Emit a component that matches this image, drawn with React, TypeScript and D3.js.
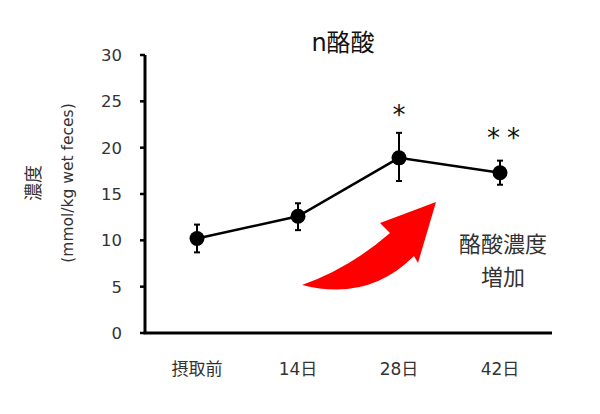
import React from "react";
import * as d3 from "d3";

const categories = ["摂取前", "14日", "28日", "42日"];
const means = [10.2, 12.6, 18.9, 17.3];
const upper = [11.7, 14.0, 21.6, 18.6];
const lower = [8.7, 11.1, 16.4, 16.0];
const significance = ["", "", "*", "**"];
const significanceAt = [0, 0, 24.2, 21.8];
const yTicks = [0, 5, 10, 15, 20, 25, 30];

const W = 600;
const H = 414;
const FONT = "'DejaVu Sans', 'Noto Sans CJK JP', sans-serif";
const CJK = "'Noto Sans CJK JP', sans-serif";

export default function App() {
  const x = d3.scalePoint<string>().domain(categories).range([197, 500]);
  const y = d3.scaleLinear().domain([0, 30]).range([333, 55]);
  const line = d3
    .line<number>()
    .x((_, i) => x(categories[i]) as number)
    .y((d) => y(d));

  return (
    <svg
      width={W}
      height={H}
      style={{ position: "absolute", left: 0, top: 0, background: "#fff" }}
    >
      <rect width={W} height={H} fill="#fff" />
      <text x={343} y={51} textAnchor="middle" fontFamily={FONT} fontSize={24} fill="#111">
        n酪酸
      </text>
      {/* Y axis */}
      <line x1={145} x2={145} y1={y(30)} y2={y(0)} stroke="#000" strokeWidth={3} />
      {yTicks.map((t) => (
        <g key={t}>
          <line x1={140} x2={145} y1={y(t)} y2={y(t)} stroke="#000" strokeWidth={2.5} />
          <text
            x={122}
            y={y(t)}
            dy="0.36em"
            textAnchor="end"
            fontFamily={FONT}
            fontSize={16.5}
            fill="#333"
          >
            {t}
          </text>
        </g>
      ))}
      {/* X axis */}
      <line x1={143.5} x2={552} y1={y(0)} y2={y(0)} stroke="#000" strokeWidth={3} />
      {categories.map((c) => (
        <text
          key={c}
          x={x(c)}
          y={375}
          textAnchor="middle"
          fontFamily={FONT}
          fontSize={17}
          fill="#333"
        >
          {c}
        </text>
      ))}
      {/* Y labels */}
      <text
        transform={`translate(40,183) rotate(-90)`}
        textAnchor="middle"
        fontFamily={CJK}
        fontSize={18}
        fill="#333"
      >
        濃度
      </text>
      <text
        transform={`translate(73,183) rotate(-90)`}
        textAnchor="middle"
        fontFamily="'DejaVu Sans', sans-serif"
        fontSize={15.5}
        fill="#333"
      >
        (mmol/kg wet feces)
      </text>
      {/* Red arrow */}
      <path
        d="M302,285 Q350,268 390,233 L380,223 L436,202 L418,263 L414,256 Q368,302 302,285 Z"
        fill="#ff0000"
      />
      <text x={503} y={252} textAnchor="middle" fontFamily={CJK} fontSize={22} fill="#333">
        酪酸濃度
      </text>
      <text x={503} y={285} textAnchor="middle" fontFamily={CJK} fontSize={22} fill="#333">
        増加
      </text>
      {/* Data line */}
      <path d={line(means) || ""} fill="none" stroke="#000" strokeWidth={2.5} />
      {categories.map((c, i) => (
        <g key={c}>
          <line
            x1={x(c)}
            x2={x(c)}
            y1={y(upper[i])}
            y2={y(lower[i])}
            stroke="#000"
            strokeWidth={2}
          />
          <line x1={(x(c) as number) - 3} x2={(x(c) as number) + 3} y1={y(upper[i])} y2={y(upper[i])} stroke="#000" strokeWidth={2} />
          <line x1={(x(c) as number) - 3} x2={(x(c) as number) + 3} y1={y(lower[i])} y2={y(lower[i])} stroke="#000" strokeWidth={2} />
          <circle cx={x(c)} cy={y(means[i])} r={7.5} fill="#000" />
          {significance[i] && (
            <text
              x={(x(c) as number) + (significance[i].length > 1 ? 7 : 0)}
              y={y(significanceAt[i])}
              dy="0.6em"
              textAnchor="middle"
              fontFamily="'DejaVu Sans', sans-serif"
              fontSize={26}
              letterSpacing={significance[i].length > 1 ? 7 : 0}
              fill="#111"
            >
              {significance[i]}
            </text>
          )}
        </g>
      ))}
    </svg>
  );
}
